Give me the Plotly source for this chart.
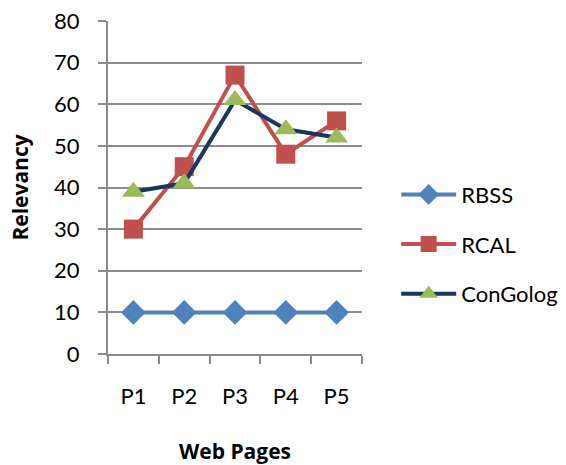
import plotly.graph_objects as go

# Relevancy of each retrieval method across five web pages
pages = ["P1", "P2", "P3", "P4", "P5"]
rbss = [10, 10, 10, 10, 10]
rcal = [30, 45, 67, 48, 56]
congolog = [39, 41, 61, 54, 52]

y_ticks = [0, 10, 20, 30, 40, 50, 60, 70, 80]

FONT = "Lato"
FS = 22
TITLE_FONT = dict(family="Open Sans", size=21, color="#000000")
GRID = "#8c8c8c"

fig = go.Figure()

fig.add_trace(go.Scatter(
    x=pages, y=rbss, name="RBSS", mode="lines+markers", legendgroup="a",
    line=dict(color="#4F81BD", width=4),
    marker=dict(symbol="diamond", size=19, color="#4F81BD"),
))
fig.add_trace(go.Scatter(
    x=pages, y=rcal, name="RCAL", mode="lines+markers", legendgroup="b",
    line=dict(color="#C0504D", width=4),
    marker=dict(symbol="square", size=19, color="#C0504D"),
))
fig.add_trace(go.Scatter(
    x=pages, y=congolog, name="ConGolog", mode="lines+markers", legendgroup="c",
    line=dict(color="#17375E", width=4),
    marker=dict(symbol="triangle-up", size=20, color="#9BBB59"),
))

fig.update_layout(
    width=566, height=465,
    margin=dict(l=108, r=204, t=21, b=111, autoexpand=False),
    paper_bgcolor="white", plot_bgcolor="white",
    font=dict(family=FONT, size=FS, color="#000000"),
    showlegend=True,
    legend=dict(
        x=0.70, xref="container", xanchor="left",
        y=0.475, yref="container", yanchor="middle",
        font=dict(family=FONT, size=FS),
        tracegroupgap=18, itemwidth=55,
        bgcolor="rgba(0,0,0,0)",
    ),
    xaxis=dict(
        type="category", range=[-0.5, 4.5],
        showgrid=False, showline=True, linecolor=GRID, linewidth=2,
        ticks="outside", tickson="boundaries", ticklen=8, tickcolor=GRID, tickwidth=2,
        ticklabelstandoff=22,
        title=dict(text="<b>Web Pages</b>", font=TITLE_FONT, standoff=36),
        zeroline=False,
    ),
    yaxis=dict(
        range=[0, 80], tickvals=y_ticks,
        showgrid=True, gridcolor=GRID, gridwidth=2,
        showline=True, linecolor=GRID, linewidth=2,
        ticks="outside", ticklen=8, tickcolor=GRID, tickwidth=2,
        ticklabelstandoff=14,
        title=dict(text="<b>Relevancy</b>", font=TITLE_FONT, standoff=20),
        zeroline=False,
    ),
)

fig.write_html("out.html")
